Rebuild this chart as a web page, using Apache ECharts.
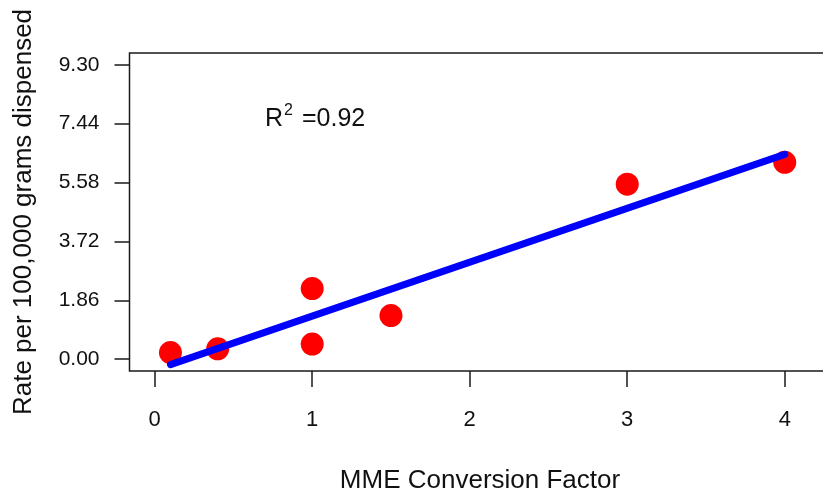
<!DOCTYPE html>
<html>
<head>
<meta charset="utf-8">
<script src="https://cdn.jsdelivr.net/npm/echarts@6/dist/echarts.min.js"></script>
<style>
html,body{margin:0;padding:0;background:#fff;}
#chart{width:823px;height:497px;}
</style>
</head>
<body>
<div id="chart"></div>
<script>
// Data
var factorX = [0.1, 0.4, 1, 1, 1.5, 3, 4];
var rateY = [0.21, 0.33, 2.23, 0.48, 1.38, 5.53, 6.22];
var fitX = [0.1, 4];
var fitY = [-0.17, 6.47];
var xTicks = [0, 1, 2, 3, 4];
var yTicks = [0.00, 1.86, 3.72, 5.58, 7.44, 9.30];
var xTitle = 'MME Conversion Factor';
var yTitle = 'Rate per 100,000 grams dispensed';
var r2Text = '=0.92';

var FONT = '"Liberation Sans", Arial, Helvetica, sans-serif';
var chart = echarts.init(document.getElementById('chart'), null, {renderer: 'canvas'});

var points = factorX.map(function (x, i) { return [x, rateY[i]]; });
var fit = fitX.map(function (x, i) { return [x, fitY[i]]; });

chart.setOption({
  animation: false,
  backgroundColor: '#ffffff',
  grid: {
    left: 129.5, top: 53, width: 734, height: 318,
    outerBoundsMode: 'none', containLabel: false,
    show: true, borderColor: '#1a1a1a', borderWidth: 1.5, backgroundColor: 'transparent'
  },
  xAxis: {
    type: 'value', min: -0.16, max: 4.5,
    axisLine: {show: false, onZero: false},
    splitLine: {show: false},
    axisTick: {show: true, inside: false, length: 16, customValues: xTicks, lineStyle: {color: '#1a1a1a', width: 1.5}},
    axisLabel: {customValues: xTicks, margin: 38, fontSize: 22, color: '#111', fontFamily: FONT,
      formatter: function (v) { return String(v); }}
  },
  yAxis: {
    type: 'value', min: -0.372, max: 9.672,
    axisLine: {show: false, onZero: false},
    splitLine: {show: false},
    axisTick: {show: true, inside: false, length: 15, customValues: yTicks, lineStyle: {color: '#1a1a1a', width: 1.5}},
    axisLabel: {customValues: yTicks, margin: 30, fontSize: 21, color: '#111', fontFamily: FONT,
      formatter: function (v) { return v.toFixed(2); }}
  },
  series: [
    {
      type: 'scatter', data: points, symbol: 'circle', symbolSize: 23,
      itemStyle: {color: '#ff0000', opacity: 1}, z: 2
    },
    {
      type: 'line', data: fit, showSymbol: false, symbol: 'none',
      lineStyle: {color: '#0000ff', width: 7, cap: 'round'}, z: 3
    }
  ],
  graphic: [
    {type: 'text', x: 480, y: 481, style: {text: xTitle, font: '26px ' + FONT, fill: '#111', textAlign: 'center', textVerticalAlign: 'middle'}},
    {type: 'text', x: 24, y: 212, rotation: Math.PI / 2, style: {text: yTitle, font: '26px ' + FONT, fill: '#111', textAlign: 'center', textVerticalAlign: 'middle'}},
    {type: 'text', x: 265, y: 119, style: {text: 'R', font: '25px ' + FONT, fill: '#111', textAlign: 'left', textVerticalAlign: 'middle'}},
    {type: 'text', x: 284, y: 111, style: {text: '2', font: '16px ' + FONT, fill: '#111', textAlign: 'left', textVerticalAlign: 'middle'}},
    {type: 'text', x: 302, y: 119, style: {text: r2Text, font: '25px ' + FONT, fill: '#111', textAlign: 'left', textVerticalAlign: 'middle'}}
  ]
});
</script>
</body>
</html>
